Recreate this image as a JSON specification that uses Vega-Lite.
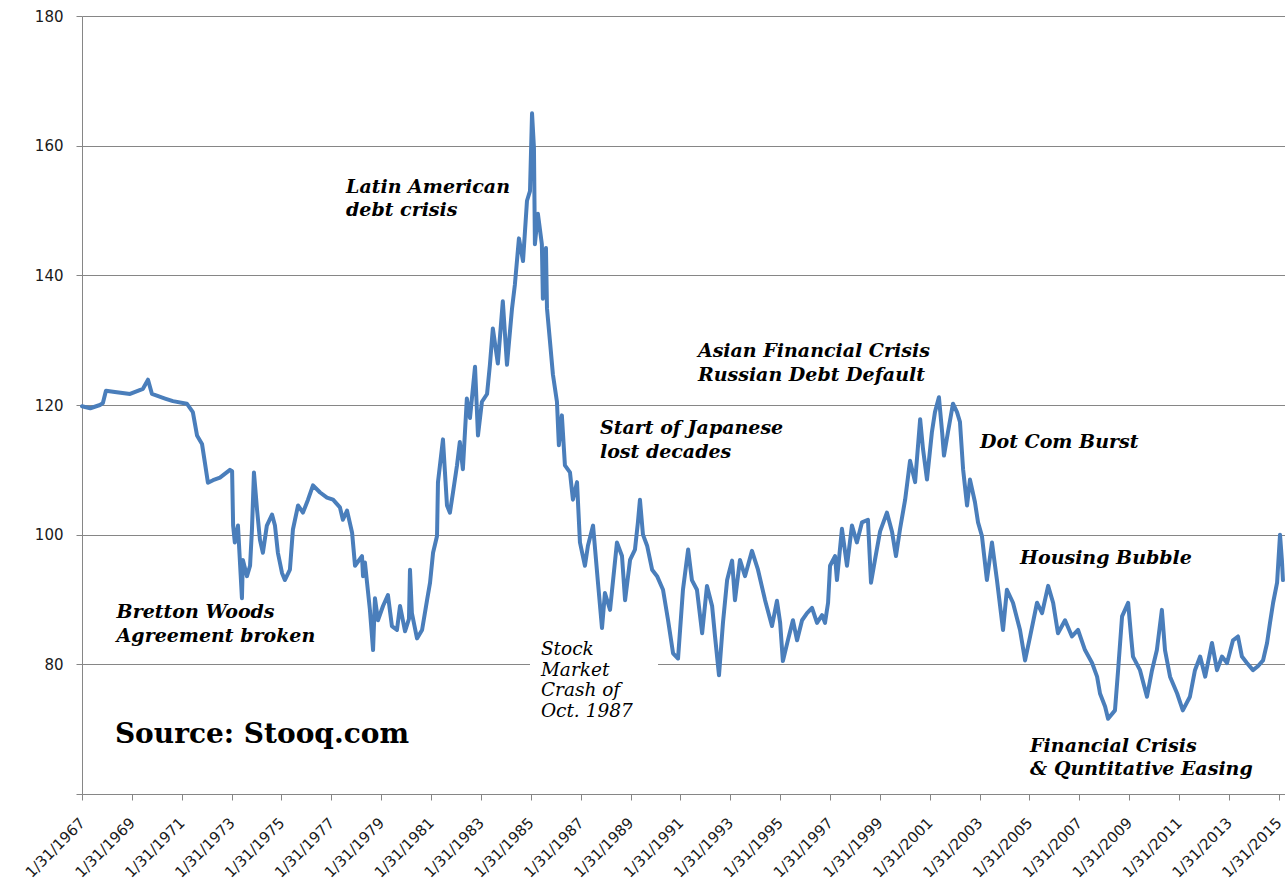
{
  "$schema": "https://vega.github.io/schema/vega-lite/v6.json",
  "autosize": {"type": "none"},
  "padding": {"left": 82, "top": 16, "right": 0, "bottom": 87},
  "width": 1203,
  "height": 778,
  "background": "white",
  "config": {
    "view": {"stroke": null},
    "axis": {
      "labelFont": "DejaVu Sans",
      "labelFontSize": 14,
      "labelColor": "#1a1a1a",
      "domainColor": "#868686",
      "tickColor": "#868686",
      "gridColor": "#868686",
      "gridWidth": 1,
      "tickSize": 6,
      "title": null
    }
  },
  "datasets": {
    "series": [
      {"date":"1967-01-31","value":119.8},{"date":"1967-06-01","value":119.5},{"date":"1967-10-20","value":120.0},{"date":"1967-12-03","value":120.3},
      {"date":"1968-01-17","value":122.2},{"date":"1968-05-27","value":122.0},{"date":"1969-01-04","value":121.7},{"date":"1969-07-12","value":122.5},
      {"date":"1969-09-24","value":123.9},{"date":"1969-11-21","value":121.7},{"date":"1970-06-01","value":121.0},{"date":"1970-09-24","value":120.6},
      {"date":"1971-04-16","value":120.2},{"date":"1971-07-13","value":118.9},{"date":"1971-09-12","value":115.3},{"date":"1971-11-24","value":114.0},
      {"date":"1972-01-07","value":111.0},{"date":"1972-02-19","value":108.0},{"date":"1972-05-04","value":108.4},{"date":"1972-08-13","value":108.8},
      {"date":"1973-01-07","value":110.0},{"date":"1973-02-07","value":109.8},{"date":"1973-02-22","value":101.4},{"date":"1973-03-19","value":98.8},
      {"date":"1973-05-04","value":101.4},{"date":"1973-07-01","value":90.2},{"date":"1973-07-15","value":96.1},{"date":"1973-09-13","value":93.6},
      {"date":"1973-10-28","value":95.2},{"date":"1973-11-25","value":100.8},{"date":"1973-12-24","value":109.6},{"date":"1974-02-07","value":103.9},
      {"date":"1974-03-22","value":99.2},{"date":"1974-05-04","value":97.2},{"date":"1974-07-01","value":101.4},{"date":"1974-09-15","value":103.1},
      {"date":"1974-10-28","value":101.4},{"date":"1974-12-10","value":97.2},{"date":"1975-02-08","value":94.1},{"date":"1975-03-22","value":93.0},
      {"date":"1975-06-04","value":94.6},{"date":"1975-07-18","value":100.8},{"date":"1975-10-01","value":104.5},{"date":"1975-12-12","value":103.4},
      {"date":"1976-02-24","value":105.4},{"date":"1976-05-07","value":107.6},{"date":"1976-08-19","value":106.5},{"date":"1976-11-28","value":105.7},
      {"date":"1977-02-25","value":105.4},{"date":"1977-06-06","value":104.2},{"date":"1977-07-19","value":102.3},{"date":"1977-09-18","value":103.7},
      {"date":"1977-12-01","value":100.3},{"date":"1978-01-13","value":95.2},{"date":"1978-04-25","value":96.7},{"date":"1978-05-10","value":93.6},
      {"date":"1978-06-07","value":95.7},{"date":"1978-08-19","value":88.4},{"date":"1978-10-04","value":82.2},{"date":"1978-11-01","value":90.2},
      {"date":"1978-12-15","value":86.8},{"date":"1979-02-27","value":89.0},{"date":"1979-05-10","value":90.7},{"date":"1979-07-07","value":85.9},
      {"date":"1979-09-19","value":85.3},{"date":"1979-11-03","value":89.0},{"date":"1980-01-16","value":85.1},{"date":"1980-03-13","value":87.0},
      {"date":"1980-03-28","value":94.6},{"date":"1980-04-25","value":87.9},{"date":"1980-07-09","value":84.0},{"date":"1980-09-21","value":85.3},
      {"date":"1980-12-03","value":89.9},{"date":"1981-01-16","value":92.6},{"date":"1981-03-01","value":97.2},{"date":"1981-04-28","value":99.8},
      {"date":"1981-05-12","value":108.1},{"date":"1981-07-24","value":114.7},{"date":"1981-09-21","value":104.5},{"date":"1981-11-03","value":103.4},
      {"date":"1981-12-18","value":106.5},{"date":"1982-02-15","value":110.7},{"date":"1982-03-28","value":114.3},{"date":"1982-05-12","value":110.1},
      {"date":"1982-07-09","value":121.0},{"date":"1982-08-24","value":118.0},{"date":"1982-11-06","value":125.9},{"date":"1982-12-19","value":115.3},
      {"date":"1983-02-15","value":120.5},{"date":"1983-05-01","value":121.7},{"date":"1983-06-12","value":126.2},{"date":"1983-07-25","value":131.8},
      {"date":"1983-10-06","value":126.4},{"date":"1983-12-18","value":136.0},{"date":"1984-02-17","value":126.2},{"date":"1984-05-01","value":134.9},
      {"date":"1984-06-12","value":138.6},{"date":"1984-08-10","value":145.7},{"date":"1984-10-09","value":142.2},{"date":"1984-12-06","value":151.5},
      {"date":"1985-01-19","value":153.0},{"date":"1985-02-18","value":165.0},{"date":"1985-03-18","value":159.7},{"date":"1985-04-01","value":144.8},
      {"date":"1985-05-15","value":149.5},{"date":"1985-07-12","value":144.8},{"date":"1985-07-27","value":136.4},{"date":"1985-09-10","value":144.2},
      {"date":"1985-09-25","value":134.9},{"date":"1985-11-08","value":129.8},{"date":"1985-12-21","value":124.7},{"date":"1986-02-18","value":120.5},
      {"date":"1986-03-18","value":113.8},{"date":"1986-05-01","value":118.4},{"date":"1986-06-15","value":110.7},{"date":"1986-08-28","value":109.6},
      {"date":"1986-10-10","value":105.4},{"date":"1986-12-09","value":108.1},{"date":"1987-01-21","value":98.8},{"date":"1987-04-04","value":95.2},
      {"date":"1987-05-18","value":98.3},{"date":"1987-08-01","value":101.4},{"date":"1987-10-12","value":92.6},{"date":"1987-12-10","value":85.6},
      {"date":"1988-01-22","value":91.0},{"date":"1988-04-06","value":88.4},{"date":"1988-07-16","value":98.8},{"date":"1988-09-28","value":96.7},
      {"date":"1988-11-12","value":89.9},{"date":"1989-01-24","value":96.1},{"date":"1989-04-06","value":97.7},{"date":"1989-05-19","value":101.9},
      {"date":"1989-06-18","value":105.4},{"date":"1989-08-01","value":100.0},{"date":"1989-10-01","value":98.3},{"date":"1989-12-13","value":94.6},
      {"date":"1990-02-24","value":93.6},{"date":"1990-05-22","value":91.5},{"date":"1990-08-04","value":86.8},{"date":"1990-10-16","value":81.7},
      {"date":"1990-12-28","value":80.9},{"date":"1991-03-10","value":91.5},{"date":"1991-05-25","value":97.7},{"date":"1991-07-19","value":93.0},
      {"date":"1991-10-01","value":91.5},{"date":"1991-12-16","value":84.8},{"date":"1992-02-25","value":92.1},{"date":"1992-05-10","value":89.0},
      {"date":"1992-06-22","value":84.3},{"date":"1992-08-19","value":78.3},{"date":"1992-10-16","value":86.4},{"date":"1992-12-16","value":93.0},
      {"date":"1993-02-27","value":96.0},{"date":"1993-04-10","value":89.9},{"date":"1993-06-22","value":96.1},{"date":"1993-09-04","value":93.6},
      {"date":"1993-12-15","value":97.5},{"date":"1994-03-13","value":94.6},{"date":"1994-06-25","value":89.9},{"date":"1994-10-04","value":85.9},
      {"date":"1994-12-16","value":89.8},{"date":"1995-02-01","value":86.4},{"date":"1995-03-13","value":80.5},{"date":"1995-05-25","value":83.7},
      {"date":"1995-08-07","value":86.8},{"date":"1995-10-07","value":83.7},{"date":"1995-12-19","value":86.8},{"date":"1996-03-01","value":87.9},
      {"date":"1996-05-13","value":88.7},{"date":"1996-07-25","value":86.4},{"date":"1996-10-07","value":87.6},{"date":"1996-11-19","value":86.4},
      {"date":"1997-01-03","value":89.5},{"date":"1997-02-01","value":95.2},{"date":"1997-04-15","value":96.7},{"date":"1997-05-13","value":93.0},
      {"date":"1997-07-25","value":100.9},{"date":"1997-10-07","value":95.2},{"date":"1997-12-19","value":101.4},{"date":"1998-03-01","value":98.8},
      {"date":"1998-05-15","value":101.9},{"date":"1998-08-10","value":102.3},{"date":"1998-09-24","value":92.6},{"date":"1998-11-21","value":96.1},
      {"date":"1999-02-04","value":100.5},{"date":"1999-05-15","value":103.4},{"date":"1999-07-28","value":100.5},{"date":"1999-09-25","value":96.7},
      {"date":"1999-11-22","value":100.8},{"date":"2000-02-06","value":105.4},{"date":"2000-04-18","value":111.4},{"date":"2000-07-01","value":108.1},
      {"date":"2000-09-13","value":117.8},{"date":"2000-10-25","value":113.2},{"date":"2000-12-22","value":108.5},{"date":"2001-03-04","value":115.8},
      {"date":"2001-04-18","value":118.9},{"date":"2001-06-15","value":121.2},{"date":"2001-08-01","value":115.8},{"date":"2001-08-28","value":112.2},
      {"date":"2001-10-25","value":115.8},{"date":"2002-01-07","value":120.2},{"date":"2002-03-07","value":118.9},{"date":"2002-04-19","value":117.4},
      {"date":"2002-06-04","value":110.1},{"date":"2002-08-01","value":104.5},{"date":"2002-09-13","value":108.5},{"date":"2002-11-25","value":105.0},
      {"date":"2003-01-09","value":101.9},{"date":"2003-03-07","value":99.8},{"date":"2003-05-19","value":93.0},{"date":"2003-08-01","value":98.8},
      {"date":"2003-10-13","value":93.0},{"date":"2004-01-10","value":85.3},{"date":"2004-03-07","value":91.5},{"date":"2004-06-04","value":89.5},
      {"date":"2004-09-15","value":85.3},{"date":"2004-11-28","value":80.6},{"date":"2005-02-10","value":84.3},{"date":"2005-05-22","value":89.5},
      {"date":"2005-08-04","value":87.9},{"date":"2005-11-01","value":92.1},{"date":"2006-01-13","value":89.5},{"date":"2006-03-25","value":84.8},
      {"date":"2006-07-07","value":86.8},{"date":"2006-10-16","value":84.3},{"date":"2007-01-13","value":85.3},{"date":"2007-04-25","value":82.2},
      {"date":"2007-08-07","value":80.2},{"date":"2007-10-19","value":78.1},{"date":"2007-12-01","value":75.5},{"date":"2008-02-13","value":73.5},
      {"date":"2008-03-28","value":71.6},{"date":"2008-07-07","value":72.9},{"date":"2008-08-22","value":79.1},{"date":"2008-10-19","value":87.4},
      {"date":"2008-12-01","value":88.4},{"date":"2009-01-16","value":89.5},{"date":"2009-02-28","value":84.3},{"date":"2009-03-28","value":81.2},
      {"date":"2009-07-09","value":79.1},{"date":"2009-10-19","value":75.0},{"date":"2010-01-01","value":79.1},{"date":"2010-03-13","value":82.2},
      {"date":"2010-05-25","value":88.4},{"date":"2010-07-10","value":82.2},{"date":"2010-09-22","value":78.1},{"date":"2011-01-04","value":75.5},
      {"date":"2011-03-28","value":72.9},{"date":"2011-07-10","value":75.0},{"date":"2011-09-22","value":79.1},{"date":"2011-12-07","value":81.2},
      {"date":"2012-02-19","value":78.1},{"date":"2012-05-28","value":83.3},{"date":"2012-08-10","value":79.1},{"date":"2012-10-22","value":81.2},
      {"date":"2013-01-04","value":80.2},{"date":"2013-04-01","value":83.7},{"date":"2013-06-13","value":84.3},{"date":"2013-08-10","value":81.2},
      {"date":"2013-10-22","value":80.2},{"date":"2014-01-19","value":79.1},{"date":"2014-04-01","value":79.7},{"date":"2014-06-15","value":80.6},
      {"date":"2014-08-13","value":83.3},{"date":"2014-09-25","value":86.4},{"date":"2014-11-10","value":89.5},{"date":"2015-01-07","value":92.6},
      {"date":"2015-02-19","value":100.0},{"date":"2015-03-19","value":96.0},{"date":"2015-04-03","value":93.0}
    ],
    "boldNotes": [
      {"date":"1977-09-03","value":152.7,"label":"Latin American\ndebt crisis"},
      {"date":"1968-06-21","value":87.1,"label":"Bretton Woods\nAgreement broken"},
      {"date":"1987-11-10","value":115.5,"label":"Start of Japanese\nlost decades"},
      {"date":"1991-10-15","value":127.4,"label":"Asian Financial Crisis\nRussian Debt Default"},
      {"date":"2003-02-07","value":113.3,"label":"Dot Com Burst"},
      {"date":"2004-09-15","value":95.5,"label":"Housing Bubble"},
      {"date":"2005-02-10","value":66.5,"label":"Financial Crisis\n& Quntitative Easing"}
    ],
    "crashNote": [
      {"date":"1985-06-28","value":81.4,"label":"Stock\nMarket\nCrash of\nOct. 1987"}
    ],
    "crashBox": [
      {"start":"1985-01-19","end":"1990-03-10","low":77,"high":82}
    ],
    "source": [
      {"date":"1968-05-27","value":67.9,"label":"Source: Stooq.com"}
    ]
  },
  "layer": [
    {
      "data": {"name": "crashBox"},
      "mark": {"type": "rect", "color": "white"},
      "encoding": {
        "x": {"field": "start", "type": "temporal", "scale": {"type": "utc", "domain": [{"year":1967,"month":1,"date":31,"utc":true},{"year":2015,"month":5,"date":3,"utc":true}]},
          "axis": {
            "values": [
              {"year":1967,"month":1,"date":31,"utc":true},{"year":1969,"month":1,"date":31,"utc":true},{"year":1971,"month":1,"date":31,"utc":true},
              {"year":1973,"month":1,"date":31,"utc":true},{"year":1975,"month":1,"date":31,"utc":true},{"year":1977,"month":1,"date":31,"utc":true},
              {"year":1979,"month":1,"date":31,"utc":true},{"year":1981,"month":1,"date":31,"utc":true},{"year":1983,"month":1,"date":31,"utc":true},
              {"year":1985,"month":1,"date":31,"utc":true},{"year":1987,"month":1,"date":31,"utc":true},{"year":1989,"month":1,"date":31,"utc":true},
              {"year":1991,"month":1,"date":31,"utc":true},{"year":1993,"month":1,"date":31,"utc":true},{"year":1995,"month":1,"date":31,"utc":true},
              {"year":1997,"month":1,"date":31,"utc":true},{"year":1999,"month":1,"date":31,"utc":true},{"year":2001,"month":1,"date":31,"utc":true},
              {"year":2003,"month":1,"date":31,"utc":true},{"year":2005,"month":1,"date":31,"utc":true},{"year":2007,"month":1,"date":31,"utc":true},
              {"year":2009,"month":1,"date":31,"utc":true},{"year":2011,"month":1,"date":31,"utc":true},{"year":2013,"month":1,"date":31,"utc":true},
              {"year":2015,"month":1,"date":31,"utc":true}
            ],
            "labelExpr": "utcFormat(datum.value, '%-m/%d/%Y')",
            "labelFontSize": 15,
            "labelAngle": -45,
            "labelAlign": "right",
            "labelBaseline": "middle",
            "labelPadding": 20,
            "labelOffset": 0,
            "labelOverlap": false,
            "labelFlush": false,
            "grid": false
          }
        },
        "x2": {"field": "end"},
        "y": {"field": "low", "type": "quantitative", "scale": {"domain": [60, 180], "nice": false},
          "axis": {
            "values": [60, 80, 100, 120, 140, 160, 180],
            "labelExpr": "datum.value == 60 ? '' : datum.label",
            "labelFontSize": 15,
            "grid": true,
            "labelPadding": 13
          }
        },
        "y2": {"field": "high"}
      }
    },
    {
      "data": {"name": "series"},
      "mark": {"type": "line", "color": "#4a7ebb", "strokeWidth": 4, "strokeJoin": "round", "strokeCap": "round"},
      "encoding": {
        "x": {"field": "date", "type": "temporal"},
        "y": {"field": "value", "type": "quantitative"}
      }
    },
    {
      "data": {"name": "boldNotes"},
      "mark": {"type": "text", "align": "left", "baseline": "alphabetic", "font": "DejaVu Serif", "fontStyle": "italic", "fontWeight": "bold", "fontSize": 19, "lineBreak": "\n", "lineHeight": 23.5, "color": "black"},
      "encoding": {
        "x": {"field": "date", "type": "temporal"},
        "y": {"field": "value", "type": "quantitative"},
        "text": {"field": "label"}
      }
    },
    {
      "data": {"name": "crashNote"},
      "mark": {"type": "text", "align": "left", "baseline": "alphabetic", "font": "DejaVu Serif", "fontStyle": "italic", "fontSize": 18.5, "lineBreak": "\n", "lineHeight": 20.5, "color": "black"},
      "encoding": {
        "x": {"field": "date", "type": "temporal"},
        "y": {"field": "value", "type": "quantitative"},
        "text": {"field": "label"}
      }
    },
    {
      "data": {"name": "source"},
      "mark": {"type": "text", "align": "left", "baseline": "alphabetic", "font": "DejaVu Serif", "fontWeight": "bold", "fontSize": 28, "color": "black"},
      "encoding": {
        "x": {"field": "date", "type": "temporal"},
        "y": {"field": "value", "type": "quantitative"},
        "text": {"field": "label"}
      }
    }
  ]
}
